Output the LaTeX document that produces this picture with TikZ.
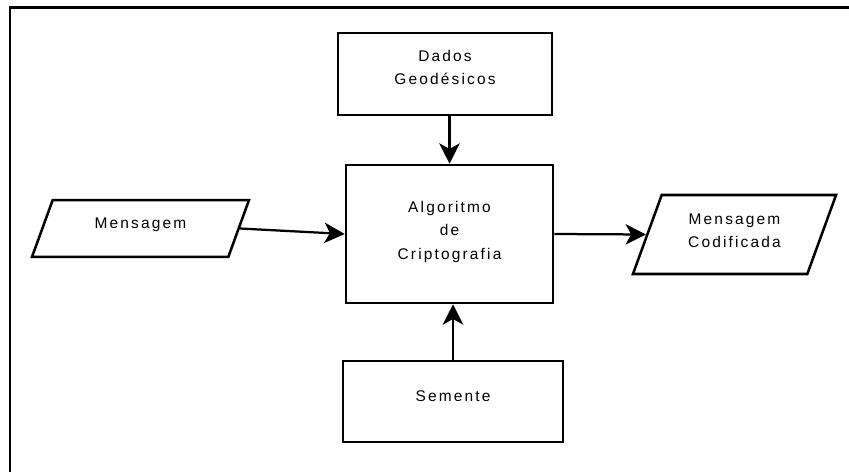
\documentclass[tikz,border=0pt]{standalone}
\usepackage{fontspec}
\setmainfont{Liberation Sans}[LetterSpace=14]
\usetikzlibrary{shapes.geometric, arrows.meta, positioning}

\begin{document}
\begin{tikzpicture}[
  procbox/.style={draw, line width=1.8pt, align=center, inner sep=0pt},
  iobox/.style={draw, trapezium, trapezium left angle=70, trapezium right angle=110,
    line width=1.8pt, align=center, inner xsep=0pt},
  flow/.style={-{Stealth[length=14.5pt, width=14.5pt, inset=4pt]}, line width=1.6pt},
  font=\fontsize{11}{16.5}\selectfont
]
  \useasboundingbox (0, 0) rectangle (21.225, 11.775);

  % frame
  \draw[line width=2pt] (21.3, 11.5875) -- (0.25, 11.5875) -- (0.25, -0.1);

  % processing blocks
  \node[procbox, text height=24.5pt, text depth=8.9pt, minimum width=5.35cm, minimum height=2.05cm] (dados) at (11.125, 9.925) {Dados\\Geodésicos};
  \node[procbox, text height=41pt, text depth=5.4pt, minimum width=5.175cm, minimum height=3.45cm] (algo) at (11.2375, 5.925) {Algoritmo\\de\\Criptografia};
  \node[procbox, text height=8pt, text depth=8pt, minimum width=5.5cm, minimum height=2.025cm] (semente) at (11.325, 1.7375) {Semente};

  % input / output
  \node[iobox, text width=4.39cm, text height=8pt, text depth=8pt, inner ysep=12.25pt] (msg) at (3.5125, 6.0625) {Mensagem};
  \node[iobox, text width=3.64cm, text height=8pt, text depth=22.5pt, inner ysep=12.85pt] (cod) at (18.3625, 5.9125) {Mensagem\\Codificada};

  % connectors
  \draw[flow] (algo.north |- dados.south) -- (algo.north);
  \draw[flow] (semente.north) -- (semente.north |- algo.south);
  \draw[flow] (msg.east) -- (algo.west);
  \draw[flow] (algo.east) -- (cod.west);
\end{tikzpicture}
\end{document}
